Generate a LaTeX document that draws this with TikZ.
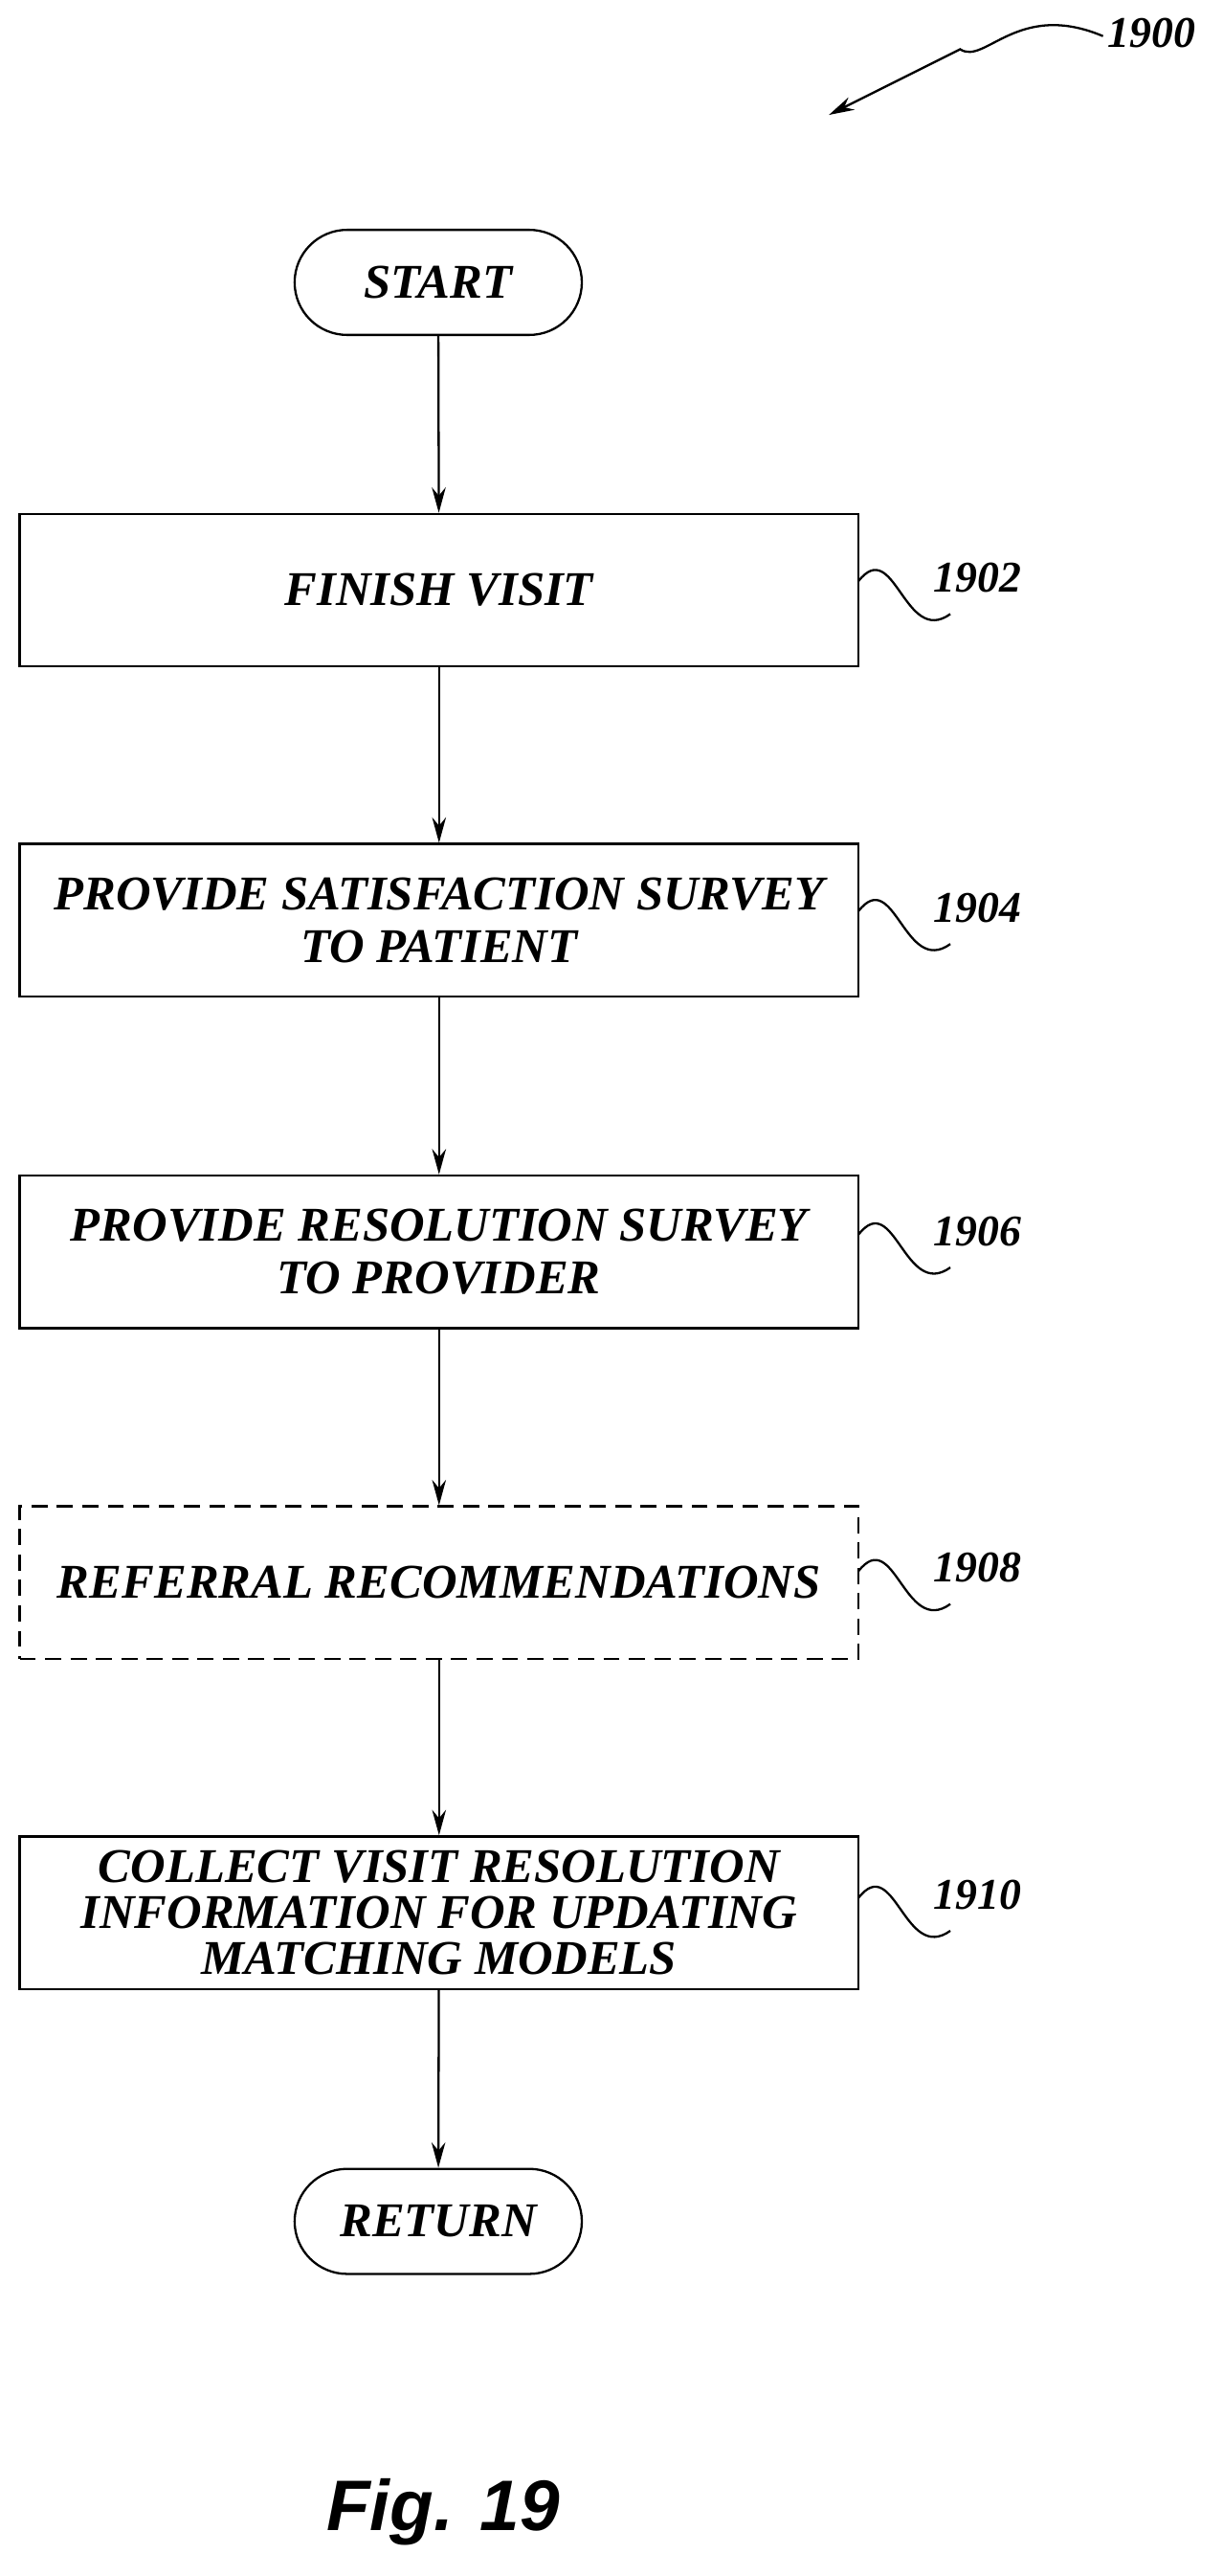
\documentclass[tikz,border=0pt]{standalone}
\usepackage{fontspec}
\setmainfont{Liberation Serif}
\newfontfamily\figfont{Liberation Sans}
\usetikzlibrary{arrows.meta,calc}
\begin{document}
\begin{tikzpicture}[x=0.05cm,y=-0.05cm,line width=1.9pt,
  txt/.style={font=\fontsize{42}{46}\selectfont\itshape\bfseries,align=center},
  proc/.style={draw,txt,minimum width=25.55cm,minimum height=4.65cm,inner sep=0pt},
  term/.style={draw,txt,rounded corners=1.6cm,minimum width=8.75cm,minimum height=3.2cm},
  arr/.style={-{Stealth[length=22pt,width=12pt]}},
  lab/.style={font=\fontsize{38}{42}\selectfont\itshape\bfseries}]
\useasboundingbox (0,0) rectangle (745,1569);
\node[term] (s) at (267,172) {START};
\node[proc] (b1) at (267.5,359.5) {FINISH VISIT};
\node[proc] (b2) at (267.5,560.5) {PROVIDE SATISFACTION SURVEY\\TO PATIENT};
\node[proc] (b3) at (267.5,762.5) {PROVIDE RESOLUTION SURVEY\\TO PROVIDER};
\node[proc,dashed,dash pattern=on 14pt off 8pt] (b4) at (267.5,964) {REFERRAL RECOMMENDATIONS};
\node[proc,font=\fontsize{42}{40}\selectfont\itshape\bfseries] (b5) at (267.5,1165) {COLLECT VISIT RESOLUTION\\INFORMATION FOR UPDATING\\MATCHING MODELS};
\node[term] (r) at (267,1353) {RETURN};
\draw[arr] (s) -- (b1);
\draw[arr] (b1) -- (b2);
\draw[arr] (b2) -- (b3);
\draw[arr] (b3) -- (b4);
\draw[arr] (b4) -- (b5);
\draw[arr] (b5) -- (r);
\foreach \y/\t in {359/1902,560/1904,757/1906,962/1908,1161/1910}{
  \coordinate (q\t) at (523,\y-5);
  \coordinate (e\t) at (579,\y+15);
  \draw (q\t) .. controls ($(q\t)+(22,-28)$) and ($(e\t)+(-28,20)$) .. (e\t);
  \node[lab,anchor=west] (l\t) at (566,\y-7) {\t};
}
\node[lab,anchor=west] (l1900) at (672,20) {1900};
\coordinate (a0) at (672,22);
\coordinate (a1) at (505,70);
\draw[arr] (a0) .. controls (620,0) and (600,40) .. (585,30) -- (a1);
\node[font=\fontsize{62}{66}\selectfont\figfont\bfseries\itshape] (fig) at (270,1530) {Fig. 19};
\end{tikzpicture}
\end{document}
